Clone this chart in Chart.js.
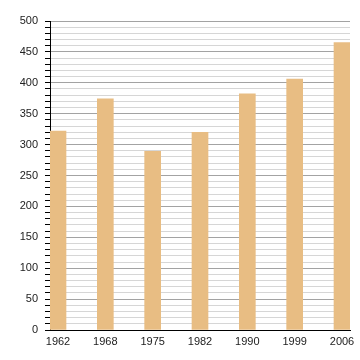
<!DOCTYPE html>
<html>
<head>
<meta charset="utf-8">
<script src="https://cdn.jsdelivr.net/npm/chart.js@4/dist/chart.umd.min.js"></script>
<style>
  html, body { margin: 0; padding: 0; background: #fff; }
  #wrap { width: 360px; height: 360px; }
</style>
</head>
<body>
<div id="wrap"><canvas id="popChart" width="360" height="360"></canvas></div>
<script>
// population by census year
const years = ['1962', '1968', '1975', '1982', '1990', '1999', '2006'];
const population = [322, 374, 289, 320, 382, 406, 465];
const yTicks = [0, 50, 100, 150, 200, 250, 300, 350, 400, 450, 500];

const ctx = document.getElementById('popChart').getContext('2d');

new Chart(ctx, {
  type: 'bar',
  data: {
    datasets: [{
      data: population.map((v, i) => ({ x: i, y: v })),
      backgroundColor: 'rgb(232, 189, 131)',
      borderWidth: 0,
      barThickness: 16
    }]
  },
  options: {
    responsive: false,
    animation: false,
    layout: { padding: { top: 21, right: 10, left: 0, bottom: 0 } },
    plugins: { legend: { display: false }, tooltip: { enabled: false } },
    scales: {
      x: {
        type: 'linear',
        offset: false,
        min: -0.169,
        max: 6.169,
        afterBuildTicks: scale => {
          scale.ticks = years.map((_, i) => ({ value: i }));
        },
        afterFit: scale => { scale.height = 30; },
        grid: { display: false, drawTicks: false },
        border: { display: true, color: '#000', width: 1 },
        ticks: {
          padding: 5,
          autoSkip: false,
          maxRotation: 0,
          color: '#222',
          font: { family: 'Liberation Sans', size: 11 },
          callback: v => years[v]
        }
      },
      y: {
        min: 0,
        max: 500,
        afterFit: scale => { scale.width = 50; },
        grid: {
          color: c => (c.tick.value % 50 === 0 ? '#a3a3a3' : '#d6d6d6'),
          tickColor: '#000',
          tickLength: 5,
          lineWidth: 1
        },
        border: { display: true, color: '#000', width: 1 },
        ticks: {
          stepSize: 10,
          maxTicksLimit: 100,
          autoSkip: false,
          padding: 7,
          color: '#222',
          font: { family: 'Liberation Sans', size: 11 },
          callback: v => (yTicks.includes(v) ? v : '')
        }
      }
    }
  }
});
</script>
</body>
</html>
